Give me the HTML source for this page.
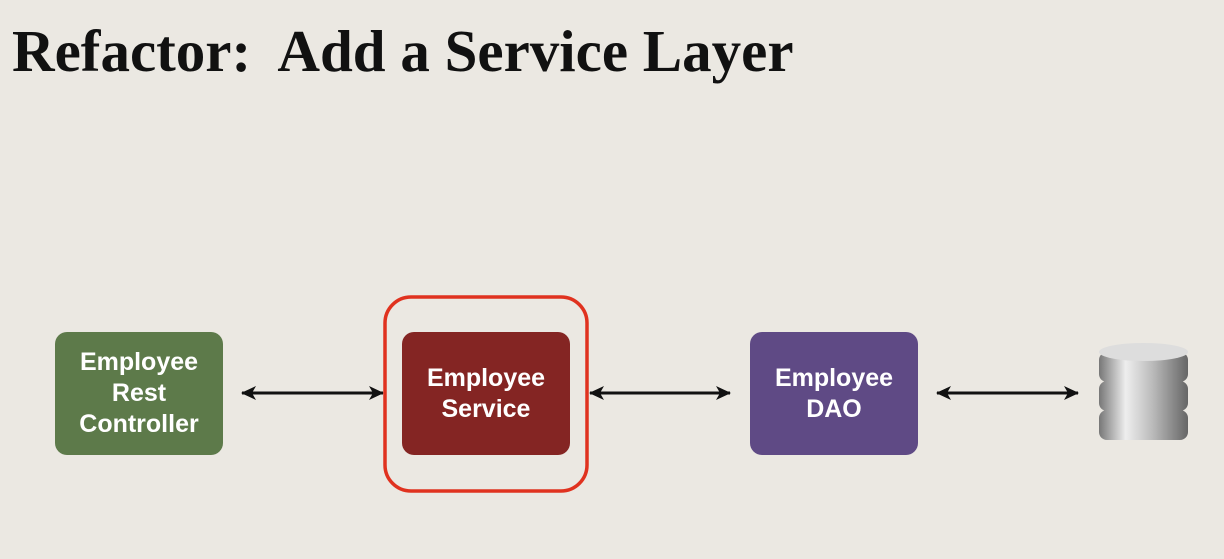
<!DOCTYPE html>
<html><head><style>
body{margin:0;width:1224px;height:559px;background:#ebe8e2;position:relative;overflow:hidden;font-family:"Liberation Sans",sans-serif}
h1{position:absolute;left:12px;top:17px;margin:0;font-family:"Liberation Serif",serif;font-weight:bold;font-size:59px;color:#111;letter-spacing:0px;white-space:nowrap}
.b{position:absolute;top:332px;width:168px;height:123px;border-radius:12px;color:#fff;font-weight:bold;font-size:25px;line-height:31px;display:flex;align-items:center;justify-content:center;text-align:center}
</style></head><body>
<h1>Refactor:&nbsp; Add a Service Layer</h1>
<div class="b" style="left:55px;background:#5d7a4a">Employee<br>Rest<br>Controller</div>
<div class="b" style="left:402px;background:#842523">Employee<br>Service</div>
<div class="b" style="left:750px;background:#5f4a85">Employee<br>DAO</div>
<svg width="1224" height="559" style="position:absolute;left:0;top:0">
<defs><marker id="a" markerWidth="16" markerHeight="16" refX="14" refY="8" orient="auto-start-reverse" markerUnits="userSpaceOnUse"><path d="M0,1 L15,8 L0,15 L4,8z" fill="#111"/></marker>
<linearGradient id="g" x1="0" x2="1"><stop offset="0" stop-color="#777"/><stop offset=".3" stop-color="#eee"/><stop offset=".6" stop-color="#bbb"/><stop offset="1" stop-color="#666"/></linearGradient></defs>
<g stroke="#111" stroke-width="3" marker-start="url(#a)" marker-end="url(#a)">
<line x1="242" y1="393" x2="383" y2="393"/>
<line x1="590" y1="393" x2="730" y2="393"/>
<line x1="937" y1="393" x2="1078" y2="393"/>
</g>
<rect x="385" y="297" width="202" height="194" rx="26" fill="none" stroke="#e0321f" stroke-width="3.5"/>
<g>
<rect x="1099" y="410" width="89" height="30" rx="8" fill="url(#g)"/>
<rect x="1099" y="381" width="89" height="30" rx="8" fill="url(#g)"/>
<rect x="1099" y="352" width="89" height="30" rx="8" fill="url(#g)"/>
<ellipse cx="1143.5" cy="352" rx="44.5" ry="9" fill="#ddd"/>
</g>
</svg>
</body></html>
